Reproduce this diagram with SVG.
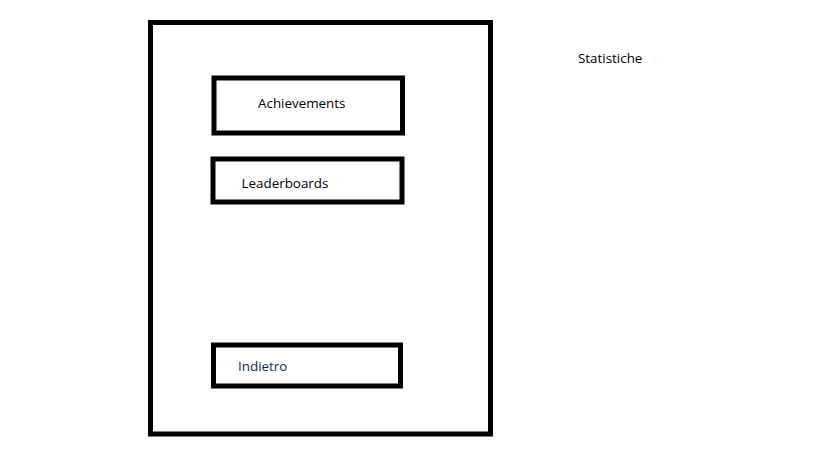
<svg xmlns="http://www.w3.org/2000/svg" width="819" height="460" viewBox="0 0 819 460">
<style>
.box{fill:none;stroke:#000;stroke-width:5}
.lbl{font-family:"Open Sans","Noto Sans","Liberation Sans",sans-serif;font-size:13.4px;fill:#000}
</style>
<rect width="819" height="460" fill="#fff"/>
<g id="screen">
<rect class="box" x="150.5" y="22.5" width="340" height="411.5"/>
</g>
<g id="achievements">
<rect class="box" x="214" y="78" width="188.5" height="55"/>
<text class="lbl" x="258" y="107.5">Achievements</text>
</g>
<g id="leaderboards">
<rect class="box" x="213" y="159" width="189" height="43"/>
<text class="lbl" x="241.5" y="187.5">Leaderboards</text>
</g>
<g id="indietro">
<rect class="box" x="213.5" y="345" width="187" height="41"/>
<text class="lbl" x="238" y="371" style="fill:#0d2a4f">Indietro</text>
</g>
<g id="title">
<text class="lbl" x="578" y="63">Statistiche</text>
</g>
<g id="connectors"/>
</svg>
